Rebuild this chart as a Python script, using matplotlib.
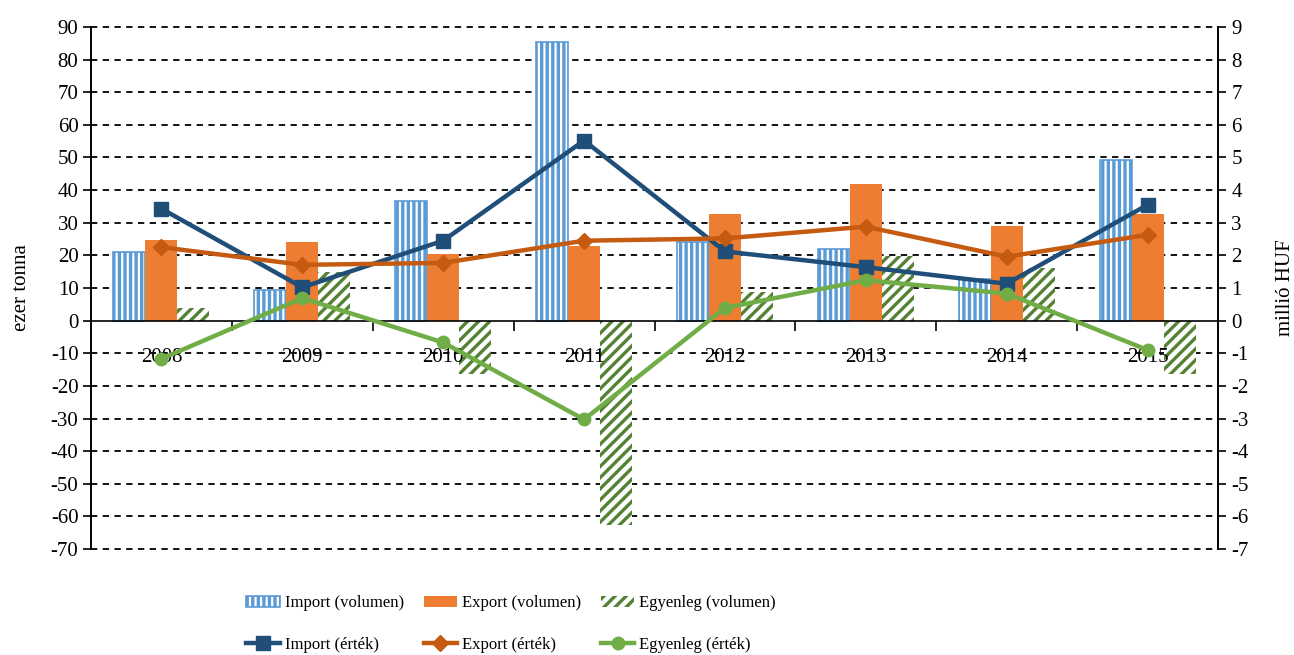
import numpy as np
import matplotlib
matplotlib.use("Agg")
import matplotlib.pyplot as plt

plt.rcParams['font.family'] = ['Liberation Serif', 'DejaVu Serif']
plt.rcParams['hatch.linewidth'] = 2.4
plt.rcParams['axes.unicode_minus'] = False

years = ['2008', '2009', '2010', '2011', '2012', '2013', '2014', '2015']
# ezer tonna
import_vol = [20.9, 9.4, 36.8, 85.3, 24.0, 22.0, 12.9, 49.1]
export_vol = [24.7, 24.2, 20.4, 23.0, 32.7, 41.9, 28.9, 32.7]
balance_vol = [3.8, 14.8, -16.4, -62.6, 8.7, 19.9, 16.2, -16.4]
# millió HUF
import_val = [3.43, 1.02, 2.45, 5.52, 2.12, 1.64, 1.13, 3.55]
export_val = [2.25, 1.71, 1.77, 2.45, 2.52, 2.88, 1.96, 2.63]
balance_val = [-1.17, 0.69, -0.67, -3.03, 0.39, 1.24, 0.83, -0.90]

c_imp = '#5B9BD5'
c_exp = '#ED7D31'
c_bal = '#548235'
c_imp_l = '#1F4E79'
c_exp_l = '#C55A11'
c_bal_l = '#70AD47'

fig = plt.figure(figsize=(12.94, 6.55), dpi=100)
ax = fig.add_axes([0.0703, 0.1618, 0.8710, 0.7970])
ax2 = ax.twinx()

x = np.arange(len(years))
w = 0.227

# rácsvonalak a sávok mögött
for yv in np.arange(-70, 91, 10):
    if yv != 0:
        ax.axhline(yv, color='black', linestyle=(0, (3.5, 3)), linewidth=1.3,
                   zorder=0.5, clip_on=False)

b1 = ax.bar(x - w, import_vol, w, facecolor='white', edgecolor=c_imp, hatch='|||',
            linewidth=1.2, label='Import (volumen)', zorder=1)
b2 = ax.bar(x, export_vol, w, color=c_exp, label='Export (volumen)', zorder=1)
b3 = ax.bar(x + w, balance_vol, w, facecolor='white', edgecolor=c_bal, hatch='///',
            linewidth=0, label='Egyenleg (volumen)', zorder=1)

l1, = ax2.plot(x, import_val, color=c_imp_l, lw=3.2, marker='s', ms=10,
               label='Import (érték)')
l2, = ax2.plot(x, export_val, color=c_exp_l, lw=3.2, marker='D', ms=8,
               label='Export (érték)')
l3, = ax2.plot(x, balance_val, color=c_bal_l, lw=3.2, marker='o', ms=9,
               label='Egyenleg (érték)')

ax.set_xlim(-0.5, len(years) - 0.5)
ax.set_ylim(-70, 90)
ax2.set_ylim(-7, 9)
ax.set_yticks(np.arange(-70, 91, 10))
ax2.set_yticks(np.arange(-7, 10, 1))

for a in (ax, ax2):
    a.spines['top'].set_visible(False)
    a.spines['bottom'].set_position(('data', 0))
    a.spines['left'].set_linewidth(1.2)
    a.spines['right'].set_linewidth(1.2)
    a.spines['bottom'].set_linewidth(1.2)
ax2.spines['bottom'].set_visible(False)

ax.set_xticks(np.arange(0.5, len(years) - 0.5, 1))
ax.set_xticklabels([])
ax.set_xticks(x, minor=True)
ax.set_xticklabels(years, minor=True)
ax.tick_params(axis='x', which='major', length=7, width=1.2, direction='out')
ax.tick_params(axis='x', which='minor', length=0, pad=20, labelsize=15)
ax.tick_params(axis='y', length=6, width=1.2, labelsize=15, pad=3)
ax2.tick_params(axis='y', length=6, width=1.2, labelsize=15)

ax.set_ylabel('ezer tonna', fontsize=15, labelpad=14)
ax2.set_ylabel('millió HUF', fontsize=15, labelpad=20)

handles = [b1, l1, b2, l2, b3, l3]
fig.legend(handles=handles, labels=[h.get_label() for h in handles],
           loc='center', bbox_to_anchor=(0.395, 0.047), ncol=3, frameon=False,
           fontsize=12, handlelength=2.0, handletextpad=0.3,
           columnspacing=1.2, labelspacing=1.55)

fig.savefig('out.png', dpi=100)
